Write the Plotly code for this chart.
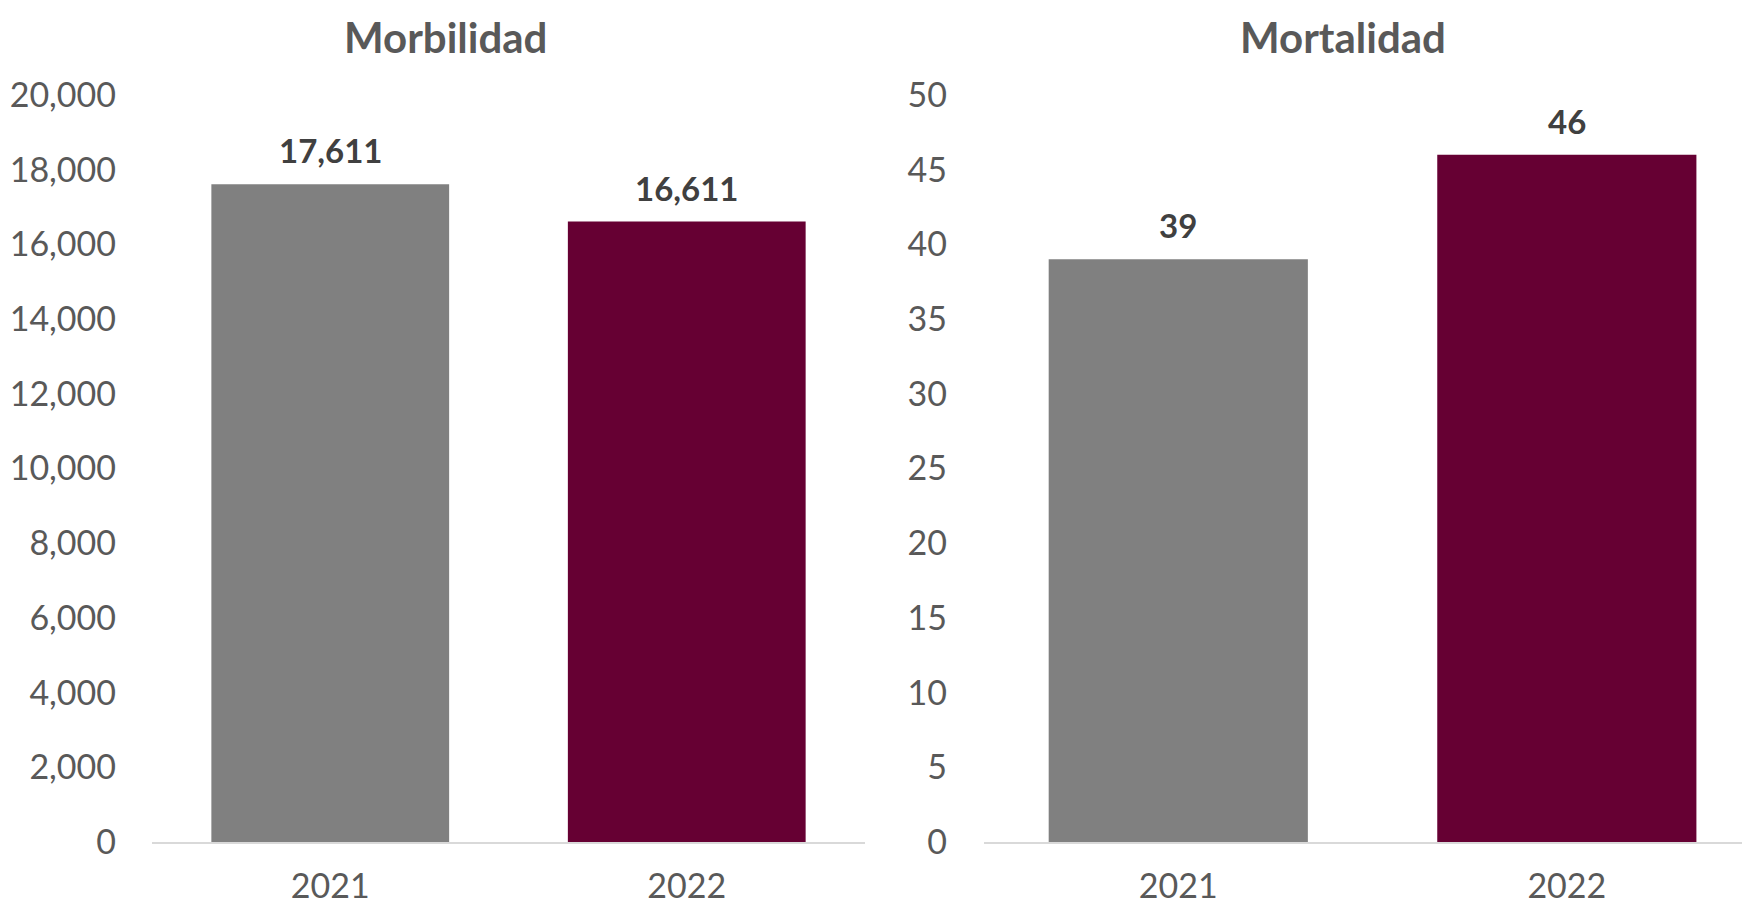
import plotly.graph_objects as go

years = ["2021", "2022"]
morbilidad = [17611, 16611]
mortalidad = [39, 46]
bar_colors = ["#808080", "#660033"]
titles = ["Morbilidad", "Mortalidad"]
morb_ticks = [0, 2000, 4000, 6000, 8000, 10000, 12000, 14000, 16000, 18000, 20000]
mort_ticks = [0, 5, 10, 15, 20, 25, 30, 35, 40, 45, 50]

W, H = 1750, 905
FONT = "Lato"
TICK_COLOR = "#595959"
LABEL_COLOR = "#404040"

fig = go.Figure()
fig.add_trace(go.Bar(x=years, y=morbilidad, marker=dict(color=bar_colors, line=dict(width=0)),
                     width=0.667, xaxis="x", yaxis="y", hoverinfo="skip"))
fig.add_trace(go.Bar(x=years, y=mortalidad, marker=dict(color=bar_colors, line=dict(width=0)),
                     width=0.667, xaxis="x2", yaxis="y2", hoverinfo="skip"))

annotations = []
for xa, ya, vals, fmt in [("x", "y", morbilidad, "{:,}"), ("x2", "y2", mortalidad, "{}")]:
    for i, v in enumerate(vals):
        annotations.append(dict(x=i, y=v, xref=xa, yref=ya, text="<b>" + fmt.format(v) + "</b>",
                                showarrow=False, xanchor="center", yanchor="bottom", yshift=12,
                                font=dict(family=FONT, size=33, color=LABEL_COLOR)))

title_x = [437 / W, 1335 / W]
for t, tx in zip(titles, title_x):
    annotations.append(dict(x=tx, y=1 - 2 / H, xref="paper", yref="paper", text="<b>" + t + "</b>",
                            showarrow=False, xanchor="center", yanchor="top",
                            font=dict(family=FONT, size=42, color=TICK_COLOR)))

ydom = [71 / H, 818 / H]
common_x = dict(type="category", showgrid=False, showline=True, linecolor="#d9d9d9", linewidth=2,
                ticks="", tickfont=dict(family=FONT, size=34, color=TICK_COLOR), ticklabelstandoff=13,
                fixedrange=True, zeroline=False, automargin=False)
common_y = dict(showgrid=False, showline=False, zeroline=False, ticks="", automargin=False,
                tickfont=dict(family=FONT, size=34, color=TICK_COLOR), fixedrange=True)

fig.update_layout(
    width=W, height=H,
    margin=dict(l=0, r=0, t=0, b=0, autoexpand=False),
    paper_bgcolor="white", plot_bgcolor="white",
    showlegend=False,
    xaxis=dict(common_x, domain=[144 / W, 857 / W], range=[-0.5, 1.5], anchor="y"),
    xaxis2=dict(common_x, domain=[976 / W, 1.0], range=[-0.5, 1.492], anchor="y2"),
    yaxis=dict(common_y, domain=ydom, range=[0, 20000], tickvals=morb_ticks,
               ticktext=[f"{v:,}" for v in morb_ticks], ticklabelstandoff=35, anchor="x"),
    yaxis2=dict(common_y, domain=ydom, range=[0, 50], tickvals=mort_ticks,
                ticktext=[str(v) for v in mort_ticks], ticklabelstandoff=36, anchor="x2"),
    annotations=annotations,
)

fig.write_html("out.html")
